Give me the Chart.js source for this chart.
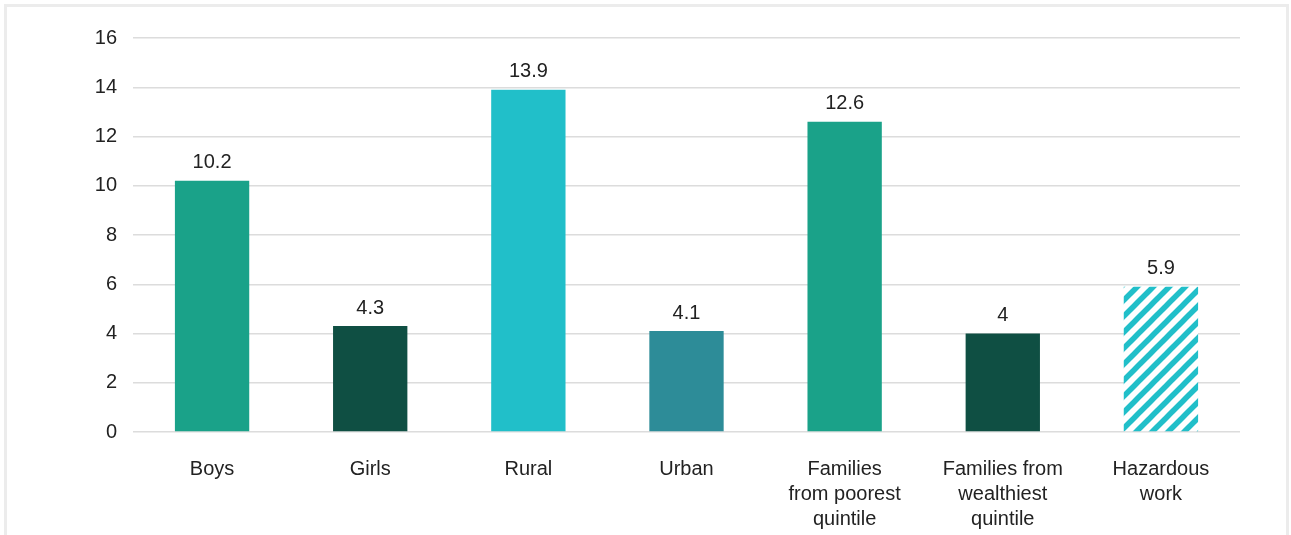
<!DOCTYPE html>
<html>
<head>
<meta charset="utf-8">
<script src="https://cdn.jsdelivr.net/npm/chart.js@4"></script>
<style>
  html, body { margin: 0; padding: 0; background: #fff; overflow: hidden; }
  .frame { position: absolute; left: 4px; top: 4px; width: 1279px; height: 560px; border: 3px solid #ececec; border-bottom: none; }
  .wrap { position: absolute; left: 0; top: 0; width: 1291px; height: 535px; }
</style>
</head>
<body>
<div class="frame"></div>
<div class="wrap"><canvas id="chart"></canvas></div>
<script>
const categories = [
    'Boys', 'Girls', 'Rural', 'Urban',
    ['Families', 'from poorest', 'quintile'],
    ['Families from', 'wealthiest', 'quintile'],
    ['Hazardous', 'work']
];
const values = [10.2, 4.3, 13.9, 4.1, 12.6, 4, 5.9];
const yTicks = [0, 2, 4, 6, 8, 10, 12, 14, 16];

const FONT = '"Liberation Sans", Arial, sans-serif';
const TEAL = '#1aa289', DARK = '#0f4f43', CYAN = '#21bfc9', MID = '#2d8c98';

function makeHatch(color) {
    const s = 16;
    const c = document.createElement('canvas');
    c.width = s; c.height = s;
    const g = c.getContext('2d');
    g.fillStyle = '#fff';
    g.fillRect(0, 0, s, s);
    g.strokeStyle = color;
    g.lineWidth = 5.5;
    g.lineCap = 'square';
    [-s, 0, s].forEach(x0 => {
        g.beginPath();
        g.moveTo(x0, s);
        g.lineTo(x0 + s, 0);
        g.stroke();
    });
    return g.createPattern(c, 'repeat');
}

const colors = [TEAL, DARK, CYAN, MID, TEAL, DARK, makeHatch(CYAN)];

const valueLabels = {
    id: 'valueLabels',
    afterDatasetsDraw(chart) {
        const ctx = chart.ctx;
        const meta = chart.getDatasetMeta(0);
        ctx.save();
        ctx.font = '20px ' + FONT;
        ctx.fillStyle = '#222';
        ctx.textAlign = 'center';
        ctx.textBaseline = 'middle';
        meta.data.forEach((bar, i) => {
            ctx.fillText(String(values[i]), bar.x, bar.y - 18);
        });
        ctx.restore();
    }
};

new Chart(document.getElementById('chart'), {
    type: 'bar',
    data: {
        labels: categories,
        datasets: [{
            data: values,
            backgroundColor: colors,
            borderWidth: 0,
            barPercentage: 0.47,
            categoryPercentage: 1
        }]
    },
    options: {
        responsive: true,
        maintainAspectRatio: false,
        animation: false,
        layout: { padding: { top: 38, right: 51, left: 0, bottom: 0 } },
        plugins: { legend: { display: false }, tooltip: { enabled: false } },
        scales: {
            x: {
                grid: { display: false, drawTicks: false },
                border: { display: false },
                ticks: {
                    color: '#222',
                    font: { family: FONT, size: 20, lineHeight: 1.25 },
                    padding: 25,
                    maxRotation: 0,
                    autoSkip: false
                },
                afterFit(scale) { scale.height = 103; }
            },
            y: {
                min: 0,
                max: 16,
                afterBuildTicks(scale) { scale.ticks = yTicks.map(v => ({ value: v })); },
                grid: { color: '#dcdcdc', lineWidth: 1.5, drawTicks: false },
                border: { display: false },
                ticks: {
                    color: '#222',
                    font: { family: FONT, size: 20 },
                    padding: 16
                },
                afterFit(scale) { scale.width = 133; }
            }
        }
    },
    plugins: [valueLabels]
});
</script>
</body>
</html>
